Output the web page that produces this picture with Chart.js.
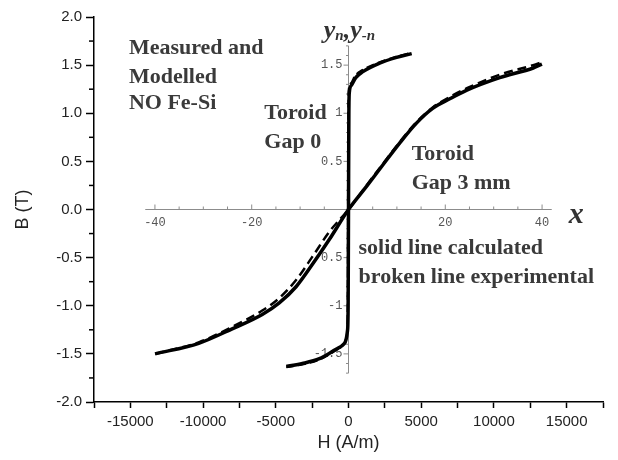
<!DOCTYPE html>
<html>
<head>
<meta charset="utf-8">
<script src="https://cdn.jsdelivr.net/npm/chart.js@4"></script>
<style>
  html, body { margin: 0; padding: 0; background: #fff; }
  #wrap { width: 618px; height: 460px; }
</style>
</head>
<body>
<div id="wrap"><canvas id="chart" width="618" height="460"></canvas></div>
<script>
// Gap 0 toroid, H (A/m) and B (T)
const gap0CalcH = [-4280, -3170, -2000, -830, -275, -70, -25, 0, 25, 60, 200, 500, 965, 2140, 3310, 4345];
const gap0CalcB = [-1.63, -1.60, -1.55, -1.45, -1.39, -1.26, -1.0, 0, 1.0, 1.22, 1.29, 1.37, 1.43, 1.52, 1.58, 1.62];
const gap0ExpH = [-4280, -3170, -2000, -830, -330, -120, -60, -40, -15, 15, 150, 450, 965, 2140, 3310, 4345];
const gap0ExpB = [-1.64, -1.61, -1.56, -1.46, -1.40, -1.30, -1.0, 0, 1.0, 1.25, 1.31, 1.39, 1.45, 1.53, 1.59, 1.63];

// Gap 3 mm toroid
const gap3H = [-13300, -10300, -8000, -5930, -4760, -3590, -2480, -1310, 0, 1240, 2345, 3517, 4690, 5790, 6965, 8140, 10400, 12700, 13300];
const gap3CalcB = [-1.50, -1.39, -1.24, -1.09, -0.97, -0.80, -0.57, -0.31, 0, 0.24, 0.46, 0.69, 0.90, 1.05, 1.15, 1.24, 1.37, 1.47, 1.51];
const gap3ExpB = [-1.50, -1.38, -1.22, -1.05, -0.92, -0.73, -0.49, -0.23, 0, 0.25, 0.47, 0.70, 0.91, 1.06, 1.17, 1.26, 1.40, 1.50, 1.53];

// inset (normalised) axes: 40 units on x equals 13310 A/m
const innerUnitH = 13310 / 40;
const innerXTicks = [-40, -20, 20, 40];
const innerYTicks = [1.5, 1, 0.5, -0.5, -1, -1.5];

const notes = [
  ['Measured and', -15100, 1.67],
  ['Modelled', -15100, 1.37],
  ['NO Fe-Si', -15100, 1.10],
  ['Toroid', -5790, 1.00],
  ['Gap 0', -5790, 0.70],
  ['Toroid', 4345, 0.57],
  ['Gap 3 mm', 4345, 0.27],
  ['solid line calculated', 690, -0.40],
  ['broken line experimental', 690, -0.70],
];

const toPoints = (hs, bs) => hs.map((h, i) => ({x: h, y: bs[i]}));

const line = (label, data, width, dash) => ({
  label: label,
  data: data,
  showLine: true,
  borderColor: '#000',
  borderWidth: width,
  borderDash: dash,
  pointRadius: 0,
  cubicInterpolationMode: 'monotone',
  fill: false,
});

const overlay = {
  id: 'overlay',
  beforeDatasetsDraw(chart) {
    const {ctx, scales: {x, y}} = chart;
    const px = u => x.getPixelForValue(u * innerUnitH);
    const py = v => y.getPixelForValue(v);
    ctx.save();

    // minor ticks of the outer y axis
    ctx.strokeStyle = '#000';
    ctx.lineWidth = 1.5;
    for (let k = -7; k <= 7; k += 2) {
      const yy = py(k * 0.25);
      ctx.beginPath();
      ctx.moveTo(x.left - 5, yy);
      ctx.lineTo(x.left, yy);
      ctx.stroke();
    }

    // inset axes
    ctx.strokeStyle = '#8c8c8c';
    ctx.lineWidth = 1;
    const y0 = py(0), x0 = px(0);
    ctx.beginPath();
    ctx.moveTo(px(-42), y0);
    ctx.lineTo(px(42), y0);
    ctx.moveTo(x0, py(-1.7));
    ctx.lineTo(x0, py(1.7));
    for (let u = -40; u <= 40; u += 5) {
      const len = u % 20 === 0 ? 5 : 3;
      ctx.moveTo(px(u), y0);
      ctx.lineTo(px(u), y0 - len);
    }
    for (let k = -17; k <= 17; k++) {
      const len = k % 5 === 0 ? 5 : 2.5;
      ctx.moveTo(x0, py(k / 10));
      ctx.lineTo(x0 - len, py(k / 10));
    }
    ctx.stroke();

    ctx.fillStyle = '#555';
    ctx.font = '12px "Liberation Mono"';
    ctx.textAlign = 'center';
    ctx.textBaseline = 'top';
    innerXTicks.forEach(u => ctx.fillText(String(u), px(u), y0 + 7));
    ctx.textAlign = 'right';
    ctx.textBaseline = 'middle';
    innerYTicks.forEach(v => ctx.fillText(String(v), x0 - 6, py(v)));
    ctx.restore();
  },
  afterDraw(chart) {
    const {ctx, scales: {x, y}} = chart;
    ctx.save();
    ctx.fillStyle = '#3a3a3a';
    ctx.font = 'bold 22px "Liberation Serif"';
    ctx.textAlign = 'left';
    ctx.textBaseline = 'middle';
    notes.forEach(([t, h, b]) => ctx.fillText(t, x.getPixelForValue(h), y.getPixelForValue(b)));

    // inset axis names
    ctx.fillStyle = '#333';
    ctx.font = 'bold italic 30px "Liberation Serif"';
    ctx.fillText('x', x.getPixelForValue(15150), y.getPixelForValue(-0.06));

    ctx.textBaseline = 'alphabetic';
    let cx = x.getPixelForValue(-1700);
    const by = y.getPixelForValue(1.78);
    const part = (t, font, dy) => {
      ctx.font = font;
      ctx.fillText(t, cx, by + dy);
      cx += ctx.measureText(t).width;
    };
    part('y', 'bold italic 26px "Liberation Serif"', 0);
    part('n', 'bold italic 15px "Liberation Serif"', 2);
    part(',', 'bold italic 26px "Liberation Serif"', 0);
    part('y', 'bold italic 26px "Liberation Serif"', 0);
    part('-n', 'bold italic 15px "Liberation Serif"', 2);
    ctx.restore();
  }
};

const tickFont = {family: '"Liberation Sans", Arial, sans-serif', size: 15};

new Chart(document.getElementById('chart'), {
  type: 'scatter',
  data: {
    datasets: [
      line('Gap 0 calculated', toPoints(gap0CalcH, gap0CalcB), 3.5, []),
      line('Gap 0 experimental', toPoints(gap0ExpH, gap0ExpB), 2, [8, 4]),
      line('Gap 3 mm calculated', toPoints(gap3H, gap3CalcB), 3.5, []),
      line('Gap 3 mm experimental', toPoints(gap3H, gap3ExpB), 2.5, [9, 5]),
    ]
  },
  options: {
    responsive: false,
    animation: false,
    layout: {padding: {top: 17, right: 15, left: 6, bottom: 0}},
    plugins: {legend: {display: false}, tooltip: {enabled: false}},
    scales: {
      x: {
        type: 'linear',
        min: -17500,
        max: 17500,
        afterFit(scale) { scale.height = 58; },
        ticks: {
          stepSize: 2500,
          maxRotation: 0,
          autoSkip: false,
          color: '#222',
          font: tickFont,
          padding: 5,
          callback: v => (v % 5000 === 0 ? String(v) : ''),
        },
        grid: {drawOnChartArea: false, tickLength: 6, tickColor: '#000', tickWidth: 1.5},
        border: {color: '#000', width: 1.5},
        title: {display: true, text: 'H (A/m)', color: '#222', font: {family: tickFont.family, size: 18}, padding: {top: 0, bottom: 6}},
      },
      y: {
        type: 'linear',
        min: -2,
        max: 2,
        afterFit(scale) { scale.width = 88; },
        ticks: {
          stepSize: 0.5,
          color: '#222',
          font: tickFont,
          padding: 4,
          callback: v => v.toFixed(1),
        },
        grid: {drawOnChartArea: false, tickLength: 8, tickColor: '#000', tickWidth: 1.5},
        border: {color: '#000', width: 1.5},
        title: {display: true, text: 'B (T)', color: '#222', font: {family: tickFont.family, size: 18}, padding: {top: 6, bottom: 0}},
      }
    }
  },
  plugins: [overlay]
});
</script>
</body>
</html>
